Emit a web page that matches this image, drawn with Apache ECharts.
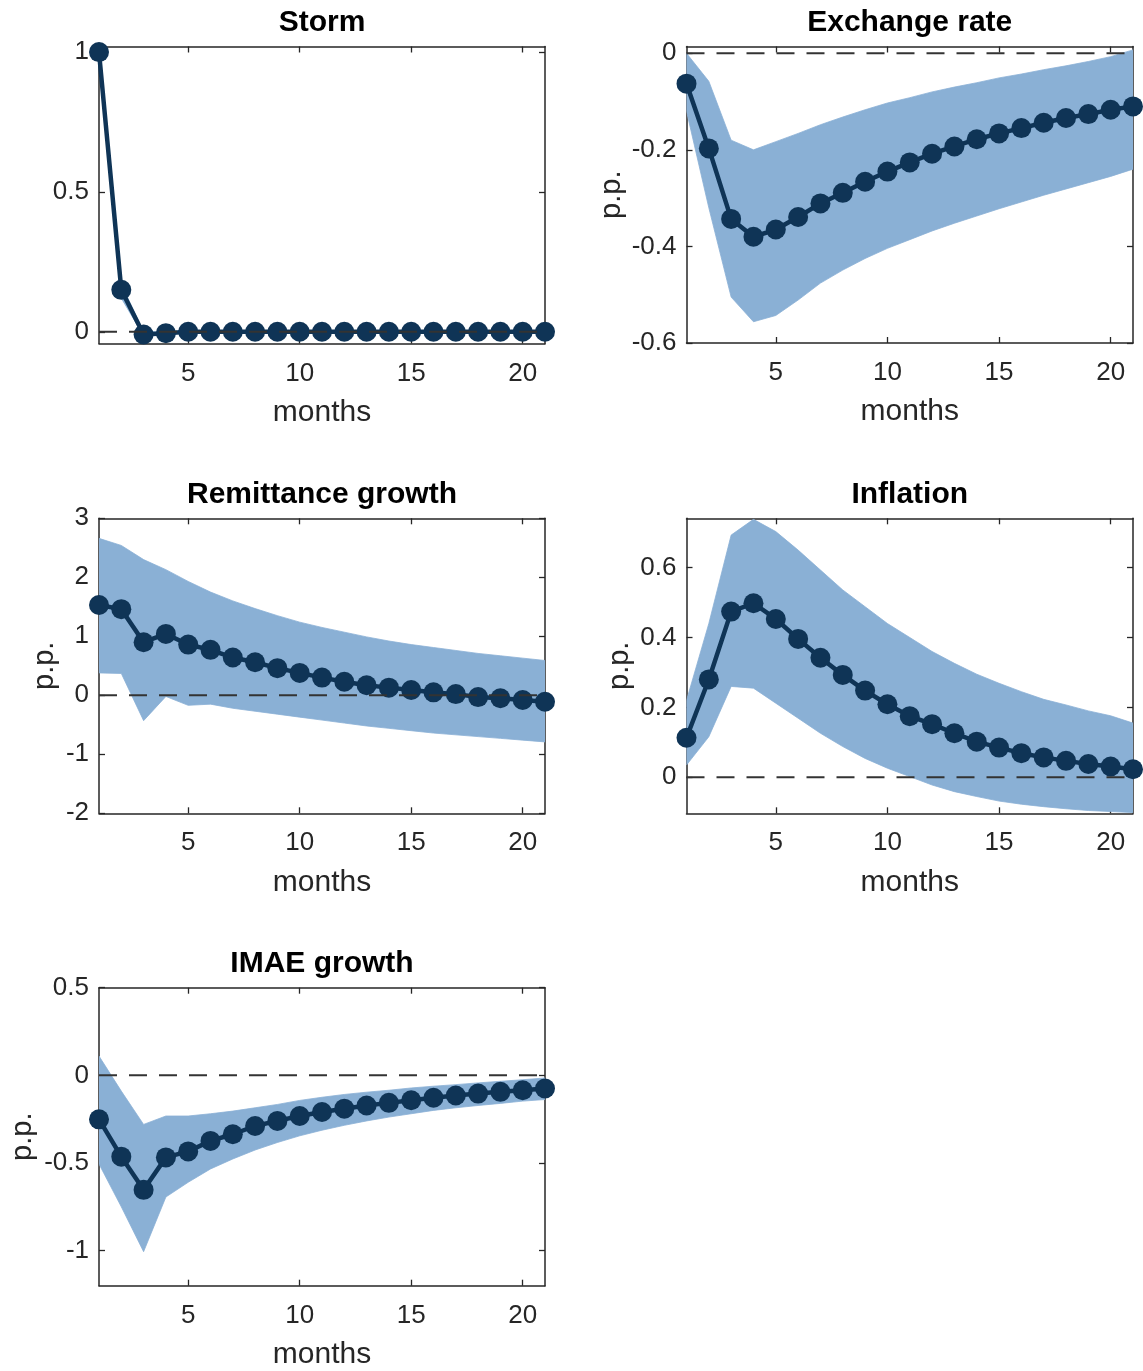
<!DOCTYPE html>
<html>
<head>
<meta charset="utf-8">
<script src="https://cdn.jsdelivr.net/npm/echarts@6/dist/echarts.min.js"></script>
<style>
html,body{margin:0;padding:0;background:#fff;}
#chart{width:1143px;height:1371px;}
</style>
</head>
<body>
<div id="chart"></div>
<script>
// ---------------- DATA ----------------
const months = [1,2,3,4,5,6,7,8,9,10,11,12,13,14,15,16,17,18,19,20,21];
const xTicks = [5,10,15,20];

const titles = ["Storm", "Exchange rate", "Remittance growth", "Inflation", "IMAE growth"];

const stormMean = [1.0,0.15,-0.01,-0.005,0,0,0,0,0,0,0,0,0,0,0,0,0,0,0,0,0];
const stormLo   = [1.0,0.12,-0.015,-0.01,0,0,0,0,0,0,0,0,0,0,0,0,0,0,0,0,0];
const stormHi   = [1.0,0.17,0.0,0.0,0,0,0,0,0,0,0,0,0,0,0,0,0,0,0,0,0];
const stormTicks = [0,0.5,1];

const exchMean = [-0.063,-0.197,-0.343,-0.380,-0.365,-0.339,-0.311,-0.289,-0.266,-0.245,-0.226,-0.208,-0.193,-0.178,-0.166,-0.155,-0.144,-0.134,-0.126,-0.117,-0.110];
const exchHi   = [0.0,-0.058,-0.180,-0.200,-0.183,-0.166,-0.148,-0.132,-0.117,-0.103,-0.092,-0.080,-0.070,-0.061,-0.051,-0.043,-0.034,-0.026,-0.017,-0.007,0.007];
const exchLo   = [-0.12,-0.32,-0.505,-0.556,-0.543,-0.511,-0.476,-0.449,-0.425,-0.404,-0.386,-0.368,-0.352,-0.337,-0.322,-0.308,-0.294,-0.281,-0.268,-0.255,-0.240];
const exchTicks = [-0.6,-0.4,-0.2,0];

const remMean = [1.53,1.46,0.90,1.04,0.86,0.77,0.64,0.56,0.46,0.38,0.30,0.23,0.17,0.13,0.09,0.05,0.02,-0.03,-0.05,-0.08,-0.11];
const remHi   = [2.66,2.54,2.30,2.13,1.93,1.75,1.60,1.47,1.35,1.24,1.15,1.07,0.99,0.92,0.86,0.81,0.76,0.71,0.67,0.63,0.59];
const remLo   = [0.38,0.37,-0.43,-0.02,-0.17,-0.15,-0.22,-0.27,-0.32,-0.37,-0.42,-0.47,-0.52,-0.56,-0.60,-0.64,-0.67,-0.70,-0.73,-0.76,-0.79];
const remTicks = [-2,-1,0,1,2,3];

const inflMean = [0.113,0.28,0.474,0.498,0.453,0.396,0.342,0.293,0.248,0.209,0.175,0.152,0.126,0.102,0.085,0.069,0.057,0.047,0.038,0.031,0.023];
const inflHi   = [0.22,0.44,0.693,0.738,0.703,0.65,0.593,0.536,0.488,0.44,0.40,0.36,0.326,0.295,0.269,0.245,0.223,0.207,0.19,0.176,0.155];
const inflLo   = [0.035,0.116,0.26,0.255,0.212,0.169,0.126,0.088,0.054,0.026,0.002,-0.022,-0.041,-0.055,-0.068,-0.077,-0.084,-0.09,-0.095,-0.098,-0.101];
const inflTicks = [0,0.2,0.4,0.6];

const imaeMean = [-0.251,-0.464,-0.653,-0.468,-0.434,-0.374,-0.336,-0.289,-0.26,-0.232,-0.209,-0.19,-0.172,-0.157,-0.142,-0.128,-0.115,-0.104,-0.094,-0.085,-0.075];
const imaeHi   = [0.11,-0.09,-0.28,-0.232,-0.232,-0.219,-0.204,-0.185,-0.166,-0.143,-0.125,-0.109,-0.096,-0.085,-0.072,-0.062,-0.053,-0.043,-0.034,-0.025,-0.015];
const imaeLo   = [-0.506,-0.75,-1.006,-0.694,-0.61,-0.534,-0.477,-0.426,-0.383,-0.345,-0.313,-0.285,-0.26,-0.238,-0.219,-0.2,-0.185,-0.172,-0.16,-0.147,-0.138];
const imaeTicks = [-1,-0.5,0,0.5];

// ---------------- LAYOUT / STYLE ----------------
const FONT = "'Liberation Sans', Arial, Helvetica, sans-serif";
const AX = '#262626';
const BAND = '#8AB0D5';
const NAVY = '#0F3456';

const panels = [
  {title: titles[0], mean: stormMean, lo: stormLo, hi: stormHi, ticks: stormTicks, ymin: -0.042, ymax: 1.02,
   box: {left: 99, top: 46.5, width: 446, height: 297}, yName: null},
  {title: titles[1], mean: exchMean, lo: exchLo, hi: exchHi, ticks: exchTicks, ymin: -0.6, ymax: 0.014,
   box: {left: 686.5, top: 46.5, width: 446.5, height: 296.5}, yName: 'p.p.', nameGap: 60},
  {title: titles[2], mean: remMean, lo: remLo, hi: remHi, ticks: remTicks, ymin: -2, ymax: 3,
   box: {left: 99, top: 518.3, width: 446, height: 295}, yName: 'p.p.', nameGap: 40},
  {title: titles[3], mean: inflMean, lo: inflLo, hi: inflHi, ticks: inflTicks, ymin: -0.103, ymax: 0.741,
   box: {left: 686.5, top: 518.3, width: 446.5, height: 295}, yName: 'p.p.', nameGap: 52},
  {title: titles[4], mean: imaeMean, lo: imaeLo, hi: imaeHi, ticks: imaeTicks, ymin: -1.2, ymax: 0.5,
   box: {left: 99, top: 987.7, width: 446, height: 298}, yName: 'p.p.', nameGap: 62}
];

const option = {
  backgroundColor: '#fff',
  animation: false,
  title: [], grid: [], xAxis: [], yAxis: [], series: []
};

function bandRenderer(lo, hi) {
  return function (params, api) {
    if (params.dataIndex !== 0) return null;
    const pts = [];
    for (let k = 0; k < months.length; k++) pts.push(api.coord([months[k], hi[k]]));
    for (let k = months.length - 1; k >= 0; k--) pts.push(api.coord([months[k], lo[k]]));
    const cs = params.coordSys;
    return {
      type: 'polygon',
      shape: {points: pts},
      style: {fill: BAND, stroke: BAND, lineWidth: 0.8},
      clipPath: {type: 'rect', shape: {x: cs.x, y: cs.y, width: cs.width, height: cs.height}},
      silent: true
    };
  };
}

panels.forEach((p, i) => {
  const b = p.box;
  option.title.push({
    text: p.title, left: b.left + b.width / 2, top: b.top - 40, textAlign: 'center', padding: 0,
    textStyle: {fontFamily: FONT, fontWeight: 'bold', fontSize: 30, color: '#000', lineHeight: 32}
  });
  option.grid.push({left: b.left, top: b.top, width: b.width, height: b.height, show: false, containLabel: false});

  const tickStyle = {show: true, inside: true, length: 6, lineStyle: {color: AX, width: 1.3}};
  option.xAxis.push({
    type: 'value', gridIndex: i, min: 1, max: 21, position: 'bottom',
    name: 'months', nameLocation: 'middle', nameGap: 54,
    nameTextStyle: {fontFamily: FONT, fontSize: 30, color: AX},
    axisLine: {show: true, onZero: false, lineStyle: {color: AX, width: 1.5}},
    axisTick: Object.assign({customValues: xTicks}, tickStyle),
    axisLabel: {customValues: xTicks, margin: 17, fontFamily: FONT, fontSize: 26, color: AX},
    splitLine: {show: false}
  });
  option.xAxis.push({
    type: 'value', gridIndex: i, min: 1, max: 21, position: 'top',
    axisLine: {show: true, onZero: false, lineStyle: {color: AX, width: 1.5}},
    axisTick: Object.assign({customValues: xTicks}, tickStyle),
    axisLabel: {show: false}, splitLine: {show: false}
  });
  const yAx = {
    type: 'value', gridIndex: i, min: p.ymin, max: p.ymax, position: 'left',
    axisLine: {show: true, onZero: false, lineStyle: {color: AX, width: 1.5}},
    axisTick: Object.assign({customValues: p.ticks}, tickStyle),
    axisLabel: {customValues: p.ticks, margin: 10, fontFamily: FONT, fontSize: 26, color: AX},
    splitLine: {show: false}
  };
  if (p.yName) {
    Object.assign(yAx, {name: p.yName, nameLocation: 'middle', nameRotate: 90, nameGap: p.nameGap,
      nameTextStyle: {fontFamily: FONT, fontSize: 29, color: AX}});
  }
  option.yAxis.push(yAx);
  option.yAxis.push({
    type: 'value', gridIndex: i, min: p.ymin, max: p.ymax, position: 'right',
    axisLine: {show: true, onZero: false, lineStyle: {color: AX, width: 1.5}},
    axisTick: Object.assign({customValues: p.ticks}, tickStyle),
    axisLabel: {show: false}, splitLine: {show: false}
  });

  const xi = 2 * i, yi = 2 * i;
  option.series.push({
    type: 'custom', xAxisIndex: xi, yAxisIndex: yi,
    data: months.map((m, k) => [m, p.lo[k], p.hi[k]]),
    encode: {x: 0, y: [1, 2]},
    renderItem: bandRenderer(p.lo, p.hi), silent: true, z: 1
  });
  option.series.push({
    type: 'line', xAxisIndex: xi, yAxisIndex: yi,
    data: months.map((m, k) => [m, p.mean[k]]),
    symbol: 'circle', symbolSize: 20, clip: false,
    itemStyle: {color: NAVY}, lineStyle: {color: NAVY, width: 4.5}, z: 3
  });
  option.series.push({
    type: 'line', xAxisIndex: xi, yAxisIndex: yi,
    data: [[months[0], 0], [months[months.length - 1], 0]],
    symbol: 'none', silent: true,
    lineStyle: {color: '#333', width: 2, type: [18, 12]}, z: 5
  });
});

const chart = echarts.init(document.getElementById('chart'), null, {renderer: 'canvas'});
chart.setOption(option);
</script>
</body>
</html>
